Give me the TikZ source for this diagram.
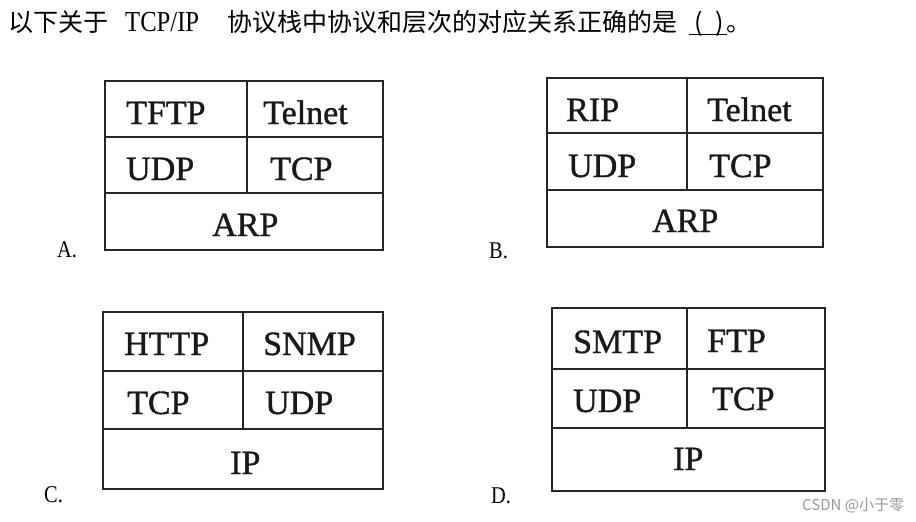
\documentclass[tikz,border=0pt]{standalone}
\usepackage{fontspec}
\newfontfamily\cjk{Noto Sans CJK SC}
\newfontfamily\tabfont[FakeBold=1.1]{Liberation Serif}
\newfontfamily\latinfont[FakeStretch=0.85]{Liberation Serif}
\begin{document}
\begin{tikzpicture}[x=1pt,y=-1pt,
  cell/.style={anchor=base west, inner sep=0pt, text=black!90, font=\tabfont\fontsize{34}{34}\selectfont},
  frame/.style={draw=black!85, line width=2.2pt},
  lbl/.style={anchor=base west, inner sep=0pt, font=\latinfont\fontsize{24}{24}\selectfont},
  cjktext/.style={anchor=base west, inner sep=0pt, font=\cjk\fontsize{25}{25}\selectfont},
  titlelatin/.style={anchor=base west, inner sep=0pt, font=\latinfont\fontsize{29}{29}\selectfont},
  wmark/.style={anchor=base west, inner sep=0pt, text=black!40, font=\cjk\fontsize{15}{15}\selectfont}]
\useasboundingbox (0,0) rectangle (916,522);
\fill[white] (0,0) rectangle (916,522);

% title
\node[cjktext] (t1) at (8,31) {以下关于};
\node[titlelatin] (t2) at (125,31) {TCP/IP};
\node[cjktext] (t3) at (227,31) {协议栈中协议和层次的对应关系正确的是};
\node[cjktext] (lp) at (694,31) {(};
\node[cjktext] (rp) at (715,31) {)};
\node[cjktext] (t4) at (726,31) {。};
\coordinate (u1) at (689,34.5);
\coordinate (u2) at (727,34.5);
\draw[line width=1.2pt] (u1) -- (u2);

% table A
\draw[frame] (105,81) rectangle (383,250);
\draw[frame] (105,137) -- (383,137) (105,193) -- (383,193) (247,81) -- (247,193);
\node[cell] (a11) at (126,124) {TFTP};
\node[cell] (a12) at (263,124) {Telnet};
\node[cell] (a21) at (126,180) {UDP};
\node[cell] (a22) at (270,180) {TCP};
\node[cell] (a3) at (212,236) {ARP};
\node[lbl] (la) at (57,257) {A.};

% table B
\draw[frame] (547,78) rectangle (823,247);
\draw[frame] (547,133) -- (823,133) (547,190) -- (823,190) (687,78) -- (687,190);
\node[cell] (b11) at (566,121) {RIP};
\node[cell] (b12) at (707,121) {Telnet};
\node[cell] (b21) at (568,177) {UDP};
\node[cell] (b22) at (709,177) {TCP};
\node[cell] (b3) at (652,232) {ARP};
\node[lbl] (lb) at (489,258) {B.};

% table C
\draw[frame] (103,312) rectangle (383,489);
\draw[frame] (103,371) -- (383,371) (103,429) -- (383,429) (243,312) -- (243,429);
\node[cell] (c11) at (124,355) {HTTP};
\node[cell] (c12) at (263,355) {SNMP};
\node[cell] (c21) at (127,414) {TCP};
\node[cell] (c22) at (265,414) {UDP};
\node[cell] (c3) at (230,474) {IP};
\node[lbl] (lc) at (44,502) {C.};

% table D
\draw[frame] (552,308) rectangle (825,491);
\draw[frame] (552,369) -- (825,369) (552,428) -- (825,428) (687,308) -- (687,428);
\node[cell] (d11) at (573,353) {SMTP};
\node[cell] (d12) at (707,352) {FTP};
\node[cell] (d21) at (573,412) {UDP};
\node[cell] (d22) at (712,410) {TCP};
\node[cell] (d3) at (673,470) {IP};
\node[lbl] (ld) at (491,503) {D.};

\node[wmark] (wm) at (802,510) {CSDN @小于零};
\end{tikzpicture}
\end{document}
